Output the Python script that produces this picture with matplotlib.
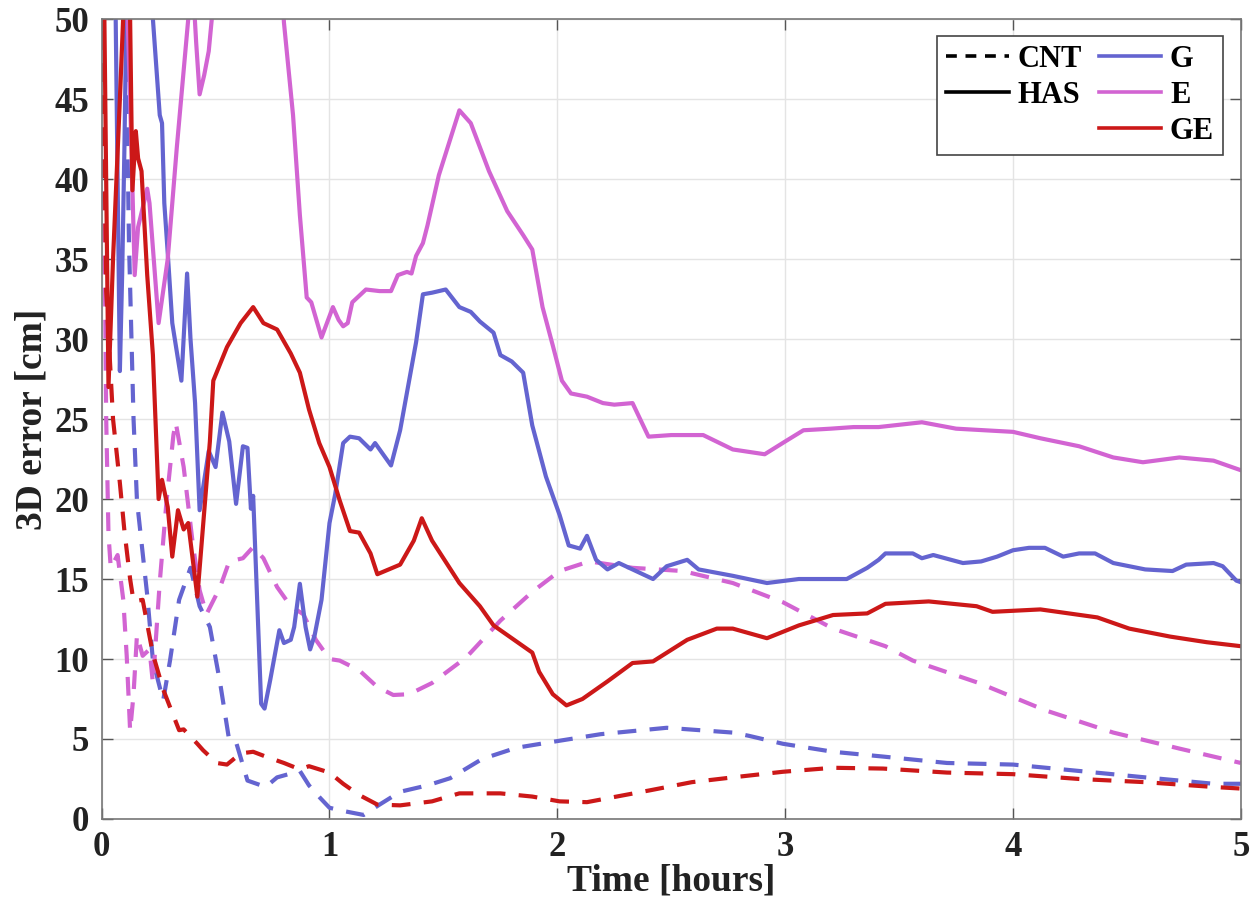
import matplotlib
matplotlib.use("Agg")
import matplotlib.pyplot as plt
from matplotlib.lines import Line2D

plt.rcParams['font.family'] = ['Liberation Serif', 'DejaVu Serif']
plt.rcParams['font.weight'] = 'bold'

# colours per solution
c_g = '#6464d0'
c_e = '#d264d2'
c_ge = '#cc1818'

# HAS (solid) solutions
t_has_g = [0, 0.06, 0.07, 0.08, 0.09, 0.1, 0.11, 0.12, 0.2, 0.225, 0.255, 0.265, 0.275, 0.29,
           0.31, 0.35, 0.375, 0.39, 0.41, 0.43, 0.47, 0.5, 0.53, 0.56, 0.59, 0.62, 0.64, 0.655,
           0.665, 0.70, 0.715, 0.74, 0.78, 0.80, 0.83, 0.845, 0.87, 0.895, 0.915, 0.935, 0.965,
           1.0, 1.025, 1.06, 1.09, 1.13, 1.18, 1.2, 1.27, 1.31, 1.38, 1.41, 1.45, 1.51, 1.57,
           1.62, 1.66, 1.72, 1.75, 1.80, 1.85, 1.89, 1.95, 2.01, 2.05, 2.10, 2.13, 2.17, 2.22,
           2.27, 2.33, 2.42, 2.48, 2.57, 2.62, 2.77, 2.92, 3.06, 3.21, 3.27, 3.36, 3.41, 3.44,
           3.56, 3.6, 3.65, 3.78, 3.86, 3.93, 4.0, 4.07, 4.14, 4.22, 4.29, 4.36, 4.44, 4.58,
           4.70, 4.76, 4.88, 4.92, 4.98, 5.0]
e_has_g = [80, 52, 40, 28, 34, 42, 52, 80, 80, 50, 44, 43.5, 38.5, 35.4,
           31, 27.4, 34.1, 30, 26, 19.3, 23, 22, 25.4, 23.6, 19.7, 23.3, 23.2, 19.4,
           20.2, 7.2, 6.9, 8.7, 11.8, 11.0, 11.2, 12.0, 14.7, 12, 10.6, 11.5, 13.7,
           18.5, 20.3, 23.5, 23.9, 23.8, 23.1, 23.5, 22.1, 24.3, 29.8, 32.8, 32.9, 33.1, 32,
           31.7, 31.1, 30.4, 29, 28.6, 27.9, 24.6, 21.4, 19.0, 17.1, 16.9, 17.7, 16.2, 15.6,
           16.0, 15.6, 15.0, 15.8, 16.2, 15.6, 15.2, 14.75, 15.0, 15.0, 15.0, 15.7, 16.2, 16.6,
           16.6, 16.3, 16.5, 16.0, 16.1, 16.4, 16.8, 16.95, 16.95, 16.4, 16.6, 16.6, 16.0, 15.6,
           15.5, 15.9, 16.0, 15.8, 14.9, 14.8]

t_has_e = [0, 0.11, 0.125, 0.145, 0.16, 0.2, 0.21, 0.25, 0.27, 0.29, 0.33, 0.38, 0.39, 0.405,
           0.415, 0.43, 0.45, 0.47, 0.49, 0.5, 0.78, 0.80, 0.84, 0.87, 0.90, 0.92, 0.965,
           1.015, 1.04, 1.06, 1.08, 1.10, 1.16, 1.22, 1.27, 1.30, 1.34, 1.36, 1.38, 1.41, 1.43,
           1.48, 1.57, 1.62, 1.70, 1.78, 1.85, 1.89, 1.935, 1.98, 2.02, 2.06, 2.13, 2.2, 2.25,
           2.33, 2.4, 2.5, 2.64, 2.77, 2.91, 3.0, 3.08, 3.2, 3.3, 3.41, 3.6, 3.75, 4.0, 4.12,
           4.29, 4.44, 4.57, 4.73, 4.88, 5.0]
e_has_e = [80, 52, 45, 34, 37, 39.4, 38.5, 31, 33, 35, 42, 50, 52, 51,
           48.5, 45.3, 46.5, 48, 51, 55, 55, 49.8, 44, 37.75, 32.6, 32.3, 30.1,
           32, 31.2, 30.8, 31, 32.3, 33.1, 33, 33, 34, 34.2, 34.1, 35.2, 36, 37.1,
           40.25, 44.3, 43.5, 40.5, 38, 36.5, 35.6, 32, 29.6, 27.4, 26.6, 26.4, 26, 25.9,
           26, 23.9, 24, 24, 23.1, 22.8, 23.6, 24.3, 24.4, 24.5, 24.5, 24.8, 24.4, 24.2, 23.8,
           23.3, 22.6, 22.3, 22.6, 22.4, 21.8]

t_has_ge = [0, 0.012, 0.03, 0.05, 0.08, 0.1, 0.11, 0.125, 0.135, 0.15, 0.16, 0.175, 0.2, 0.225,
            0.25, 0.265, 0.29, 0.31, 0.335, 0.36, 0.38, 0.42, 0.475, 0.49, 0.55, 0.61, 0.665,
            0.71, 0.77, 0.83, 0.87, 0.91, 0.955, 1.0, 1.045, 1.09, 1.13, 1.18, 1.21, 1.26, 1.31,
            1.37, 1.405, 1.45, 1.57, 1.66, 1.72, 1.89, 1.92, 1.98, 2.04, 2.11, 2.22, 2.33, 2.42,
            2.57, 2.70, 2.77, 2.92, 3.06, 3.21, 3.36, 3.44, 3.63, 3.84, 3.91, 4.12, 4.22, 4.37,
            4.51, 4.69, 4.85, 5.0]
e_has_ge = [80, 50, 27, 35, 45, 52, 55, 50, 39.3, 43, 41.3, 40.5, 34, 29,
            20, 21.2, 19.5, 16.4, 19.3, 18.1, 18.5, 13.9, 23.6, 27.4, 29.5, 31, 32,
            31, 30.6, 29.1, 27.9, 25.6, 23.5, 22, 19.9, 18, 17.9, 16.6, 15.3, 15.6, 15.9,
            17.4, 18.8, 17.4, 14.75, 13.3, 12.1, 10.4, 9.2, 7.8, 7.1, 7.5, 8.6, 9.75, 9.85,
            11.2, 11.9, 11.9, 11.3, 12.1, 12.75, 12.85, 13.45, 13.6, 13.3, 12.95, 13.1, 12.9, 12.6,
            11.9, 11.4, 11.05, 10.8]

# CNT (dashed) solutions
t_cnt_g = [0, 0.1, 0.12, 0.14, 0.155, 0.2, 0.225, 0.27, 0.30, 0.34, 0.39, 0.43, 0.475, 0.52,
           0.56, 0.59, 0.64, 0.72, 0.77, 0.87, 0.91, 0.96, 1.0, 1.06, 1.15, 1.22, 1.31, 1.43,
           1.53, 1.67, 1.82, 1.97, 2.19, 2.48, 2.77, 2.84, 2.99, 3.21, 3.43, 3.71, 4.0, 4.29,
           4.58, 4.88, 5.0]
e_cnt_g = [120, 55, 36, 25, 19.9, 14, 9.9, 7.4, 9.9, 13.7, 15.7, 13.3, 12, 8.5,
           4.9, 4.8, 2.4, 2.0, 2.6, 3.0, 2.1, 1.3, 0.7, 0.5, 0.25, 0.9, 1.7, 2.1,
           2.55, 3.75, 4.45, 4.8, 5.3, 5.7, 5.4, 5.2, 4.7, 4.2, 3.9, 3.5, 3.4, 3.0,
           2.6, 2.2, 2.2]

t_cnt_e = [0, 0.005, 0.015, 0.02, 0.03, 0.04, 0.07, 0.095, 0.11, 0.125, 0.14, 0.155, 0.18,
           0.21, 0.225, 0.255, 0.285, 0.315, 0.325, 0.36, 0.40, 0.43, 0.46, 0.52, 0.56, 0.62,
           0.665, 0.71, 0.77, 0.83, 0.885, 0.94, 1.0, 1.045, 1.13, 1.21, 1.28, 1.35, 1.45,
           1.60, 1.75, 1.89, 2.01, 2.14, 2.33, 2.55, 2.77, 2.99, 3.21, 3.44, 3.56, 3.85, 4.14,
           4.44, 4.73, 5.0]
e_cnt_e = [80, 50, 33, 25, 17.8, 15.7, 16.5, 13.7, 10.2, 5.5, 7.8, 11.5, 10.2,
           10.6, 8.5, 14.8, 19.9, 24, 24.8, 22, 17.2, 14.3, 12.8, 14.5, 16.1, 16.3,
           17, 16.3, 14.5, 13.3, 12.8, 11.2, 10, 9.9, 9.3, 8.25, 7.75, 7.8, 8.5,
           10.1, 12.4, 14.2, 15.5, 16.1, 15.7, 15.5, 14.75, 13.55, 11.9, 10.8, 9.9, 8.5, 6.8,
           5.4, 4.4, 3.5]

t_cnt_ge = [0, 0.01, 0.02, 0.05, 0.08, 0.1, 0.11, 0.125, 0.14, 0.18, 0.225, 0.27, 0.30, 0.34,
            0.36, 0.42, 0.445, 0.505, 0.55, 0.61, 0.665, 0.72, 0.80, 0.87, 0.91, 1.0, 1.06,
            1.13, 1.21, 1.31, 1.45, 1.57, 1.75, 1.89, 2.01, 2.13, 2.26, 2.41, 2.59, 2.77, 2.99,
            3.21, 3.43, 3.71, 4.0, 4.29, 4.58, 4.88, 5.0]
e_cnt_ge = [80, 45, 33, 25, 21, 18, 16.8, 15, 13.6, 13.7, 10.3, 8.1, 7.0, 5.55,
            5.6, 4.7, 4.3, 3.5, 3.4, 4.1, 4.2, 3.9, 3.5, 3.1, 3.3, 2.9, 2.2,
            1.5, 0.9, 0.85, 1.1, 1.6, 1.6, 1.4, 1.1, 1.05, 1.4, 1.8, 2.3, 2.6, 2.95,
            3.2, 3.15, 2.9, 2.8, 2.5, 2.3, 2.0, 1.9]

fig = plt.figure(figsize=(12.58, 9.13), dpi=100)
ax = fig.add_axes([0.0808, 0.103, 0.9056, 0.876])

lw = 3.0
dash = (4.5, 3.2)
ax.plot(t_cnt_g, e_cnt_g, color=c_g, lw=lw, dashes=dash)
ax.plot(t_cnt_e, e_cnt_e, color=c_e, lw=lw, dashes=dash)
ax.plot(t_cnt_ge, e_cnt_ge, color=c_ge, lw=lw, dashes=dash)
ax.plot(t_has_g, e_has_g, color=c_g, lw=lw)
ax.plot(t_has_e, e_has_e, color=c_e, lw=lw)
ax.plot(t_has_ge, e_has_ge, color=c_ge, lw=lw)

ax.set_xlim(0, 5)
ax.set_ylim(0, 50)
ax.set_xticks(range(0, 6))
ax.set_yticks(range(0, 51, 5))
ax.grid(True, color='#e4e4e4', lw=1.0)
ax.set_axisbelow(True)
ax.tick_params(direction='in', length=8, width=1, colors='#555555', labelcolor='#222222',
               labelsize=25, top=True, right=True, pad=9)
for s in ax.spines.values():
    s.set_color('#777777')
    s.set_linewidth(1.2)

ax.set_xlabel('Time [hours]', fontsize=27, fontweight='bold', color='#222222')
ax.set_ylabel('3D error [cm]', fontsize=27, fontweight='bold', color='#222222')
ax.xaxis.set_label_coords(0.5, -0.056)
ax.yaxis.set_label_coords(-0.046, 0.5)

handles = [
    Line2D([], [], color='black', lw=2.6, dashes=(3.0, 2.4)),
    Line2D([], [], color='black', lw=2.6),
    Line2D([], [], color='none', lw=0),
    Line2D([], [], color=c_g, lw=2.6),
    Line2D([], [], color=c_e, lw=2.6),
    Line2D([], [], color=c_ge, lw=2.6),
]
labels = ['CNT', 'HAS', '', 'G', 'E', 'GE']
leg = ax.legend(handles, labels, loc='upper right', bbox_to_anchor=(0.9845, 0.979), ncol=2,
                handlelength=2.05, handletextpad=0.28, columnspacing=0.55,
                labelspacing=0.22, borderpad=0.3, borderaxespad=0, fancybox=False,
                framealpha=1, edgecolor='#444444', prop={'weight': 'bold', 'size': 22})
leg.get_frame().set_linewidth(1.2)

fig.savefig('out.png', dpi=100)
